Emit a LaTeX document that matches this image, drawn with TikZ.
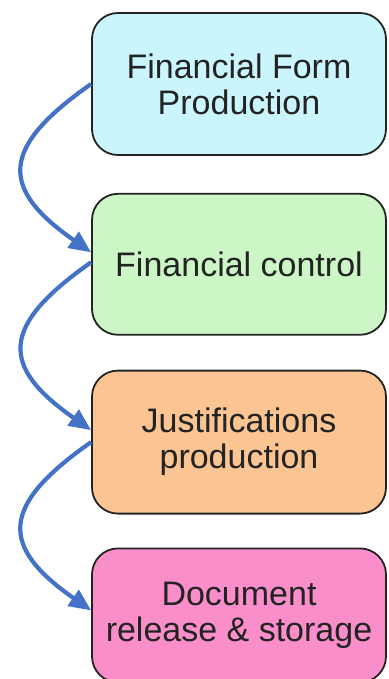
\documentclass[tikz,border=0pt]{standalone}
\usepackage{fontspec}
\setmainfont{Liberation Sans}
\usepackage{xcolor}
\usepackage{tikz}
\usetikzlibrary{arrows.meta,positioning}
\definecolor{formcyan}  {RGB}{202,245,252}
\definecolor{ctrlgreen} {RGB}{204,246,198}
\definecolor{justorange}{RGB}{250,197,147}
\definecolor{docpink}   {RGB}{250,142,202}
\definecolor{flowblue}  {RGB}{68,114,196}
\definecolor{inkgray}   {RGB}{35,35,35}
\tikzset{
  stagebox/.style={draw=inkgray, line width=1.8pt, rounded corners=26pt,
                   align=center, minimum width=294pt, minimum height=#1,
                   font=\fontsize{34pt}{36pt}\selectfont, text=inkgray,
                   inner sep=0pt},
  stagebox/.default=142pt,
  flowarr/.style ={-{Triangle[length=22pt,width=19pt]}, line width=4.2pt,
                   draw=flowblue, looseness=1.7},
}
\begin{document}
\begin{tikzpicture}[x=1pt,y=1pt]
  \useasboundingbox (0,0) rectangle (388,-679);
  \node[stagebox, fill=formcyan] (form) at (239,-84) {Financial Form\\Production};
  \node[stagebox=141pt, fill=ctrlgreen, below=37pt of form] (ctrl) {Financial control};
  \node[stagebox=143pt, fill=justorange, below=34pt of ctrl] (just) {Justifications\\production};
  \node[stagebox=134pt, fill=docpink, below=33pt of just] (doc) {Document\\release \& storage};
  \draw[flowarr] (form.west) to[out=215, in=145] ([yshift=12pt]ctrl.west);
  \draw[flowarr] ([yshift=2pt]ctrl.west) to[out=215, in=145] ([yshift=12pt]just.west);
  \draw[flowarr] (just.west) to[out=215, in=145] ([yshift=5pt]doc.west);
\end{tikzpicture}
\end{document}
